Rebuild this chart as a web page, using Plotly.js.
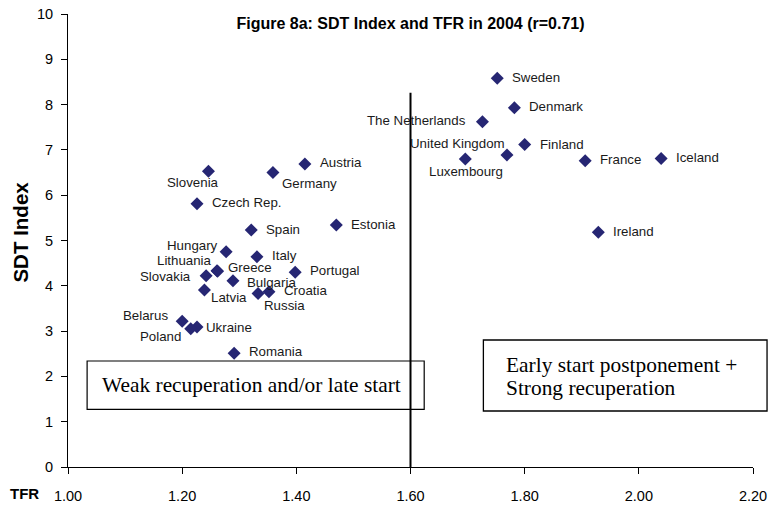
<!DOCTYPE html>
<html>
<head>
<meta charset="utf-8">
<script src="https://cdn.plot.ly/plotly-3.0.1.min.js"></script>
<style>html,body{margin:0;padding:0;background:#fff;}#chart{width:770px;height:508px;}</style>
</head>
<body>
<div id="chart"></div>
<script>
// ---- Data ----
const countries = ["Slovenia","Germany","Austria","Czech Rep.","Spain","Estonia",
  "Sweden","Denmark","The Netherlands","United Kingdom","Finland","Luxembourg",
  "France","Iceland","Ireland","Hungary","Italy","Lithuania","Greece","Slovakia",
  "Bulgaria","Portugal","Croatia","Latvia","Russia","Belarus","Ukraine","Poland","Romania"];
const tfr = [1.246,1.359,1.415,1.226,1.321,1.470,
  1.752,1.782,1.726,1.769,1.800,1.696,
  1.906,2.039,1.929,1.277,1.331,1.261,1.262,1.242,
  1.289,1.398,1.352,1.239,1.333,1.200,1.226,1.215,1.291];
const sdt = [6.53,6.50,6.69,5.81,5.23,5.34,
  8.58,7.93,7.62,6.89,7.12,6.80,
  6.76,6.81,5.18,4.75,4.64,4.33,4.32,4.22,
  4.11,4.30,3.87,3.91,3.83,3.22,3.09,3.05,2.51];
const xTicks = [1.0,1.2,1.4,1.6,1.8,2.0,2.2];
const yTicks = [0,1,2,3,4,5,6,7,8,9,10];
const chartTitle = "Figure 8a: SDT Index and TFR in 2004 (r=0.71)";
const yTitle = "SDT Index";
const xTitle = "TFR";
const boxLeftText = "Weak recuperation and/or late start";
const boxRightLine1 = "Early start postponement +";
const boxRightLine2 = "Strong recuperation";
const divideX = 1.6;

// label placement: [anchor, dx px, dy px (down positive)]
const labelPos = [["center",-15,11],["left",6.6,11],["left",13,-1],["left",13,-1],["left",13,-1],["left",13,-1],
  ["left",13,-1],["left",13,-1],["right",-14.6,-1],["right",0,-11],["left",13,0],["center",1,13],
  ["left",13,-1],["left",13,-1],["left",13,-1],["right",-6,-6],["left",13,-1],["right",-3,-10],["left",8,-3.5],["right",-13,1],
  ["left",12,1.5],["left",13,-2],["left",13,-1],["left",5,8],["left",4,12],["right",-12,-6],["left",7,0],["right",-8,8],["left",13,-2]];

const SANS = "Liberation Sans, Arial, sans-serif";
const SERIF = "Liberation Serif, Times New Roman, serif";

const trace = {
  x: tfr, y: sdt, type: "scatter", mode: "markers",
  marker: {symbol: "diamond", size: 10, color: "#262673"},
  hoverinfo: "text", text: countries, cliponaxis: false
};

const annotations = countries.map((c,i) => ({
  x: tfr[i], y: sdt[i], xref: "x", yref: "y", text: c, showarrow: false,
  xanchor: labelPos[i][0], yanchor: "middle",
  xshift: labelPos[i][1], yshift: -labelPos[i][2],
  font: {family: SANS, size: 13.3, color: "#1a1a1a"}
}));
annotations.push({xref:"paper", yref:"paper", x:-0.064, y:-0.0574, text:"<b>"+xTitle+"</b>", showarrow:false,
  xanchor:"center", yanchor:"middle", font:{family:SANS, size:15, color:"#000"}});
annotations.push({xref:"paper", yref:"paper", x:-0.0691, y:0.519, text:"<b>"+yTitle+"</b>", showarrow:false,
  textangle:-90, xanchor:"center", yanchor:"middle", font:{family:SANS, size:20.5, color:"#000"}});
annotations.push({xref:"paper", yref:"paper", x:0.0473, y:0.181, text:boxLeftText, showarrow:false,
  xanchor:"left", yanchor:"middle", font:{family:SERIF, size:21.4, color:"#000"}});
annotations.push({xref:"paper", yref:"paper", x:0.6366, y:(467-365)/453, text:boxRightLine1, showarrow:false,
  xanchor:"left", yanchor:"middle", font:{family:SERIF, size:21.4, color:"#000"}});
annotations.push({xref:"paper", yref:"paper", x:0.6366, y:(467-388)/453, text:boxRightLine2, showarrow:false,
  xanchor:"left", yanchor:"middle", font:{family:SERIF, size:21.4, color:"#000"}});

const layout = {
  width: 770, height: 508,
  margin: {l: 68, r: 17, t: 14, b: 41},
  paper_bgcolor: "#fff", plot_bgcolor: "#fff",
  showlegend: false,
  title: {text: "<b>"+chartTitle+"</b>", x: 0.5, xref: "paper", y: 1 - 23/508, yref: "container",
    xanchor: "center", yanchor: "middle", font: {family: SANS, size: 16, color: "#000"}},
  xaxis: {range: [1.0, 2.2], tickvals: xTicks, tickformat: ".2f", ticks: "outside", ticklen: 6,
    tickcolor: "#000", showline: true, linecolor: "#000", linewidth: 1, showgrid: false, zeroline: false,
    ticklabelstandoff: 10,
    tickfont: {family: SANS, size: 14.5, color: "#000"}, fixedrange: true},
  yaxis: {range: [0, 10], tickvals: yTicks, ticks: "outside", ticklen: 6, tickcolor: "#000",
    showline: true, linecolor: "#000", linewidth: 1, showgrid: false, zeroline: false,
    ticklabelstandoff: 5,
    tickfont: {family: SANS, size: 14.5, color: "#000"}, fixedrange: true},
  shapes: [
    {type: "line", xref: "x", yref: "y", x0: divideX, x1: divideX, y0: 0, y1: 8.26,
      line: {color: "#000", width: 2}},
    {type: "rect", xref: "paper", yref: "paper", x0: 0.0279, x1: 0.5200, y0: 0.1274, y1: 0.2340,
      line: {color: "#000", width: 1.2}, fillcolor: "rgba(0,0,0,0)"},
    {type: "rect", xref: "paper", yref: "paper", x0: 0.6064, x1: 1.0205, y0: 0.1236, y1: 0.2804,
      line: {color: "#000", width: 1.3}, fillcolor: "rgba(0,0,0,0)"}
  ],
  annotations: annotations
};

Plotly.newPlot("chart", [trace], layout, {displayModeBar: false, staticPlot: true});
</script>
</body>
</html>
